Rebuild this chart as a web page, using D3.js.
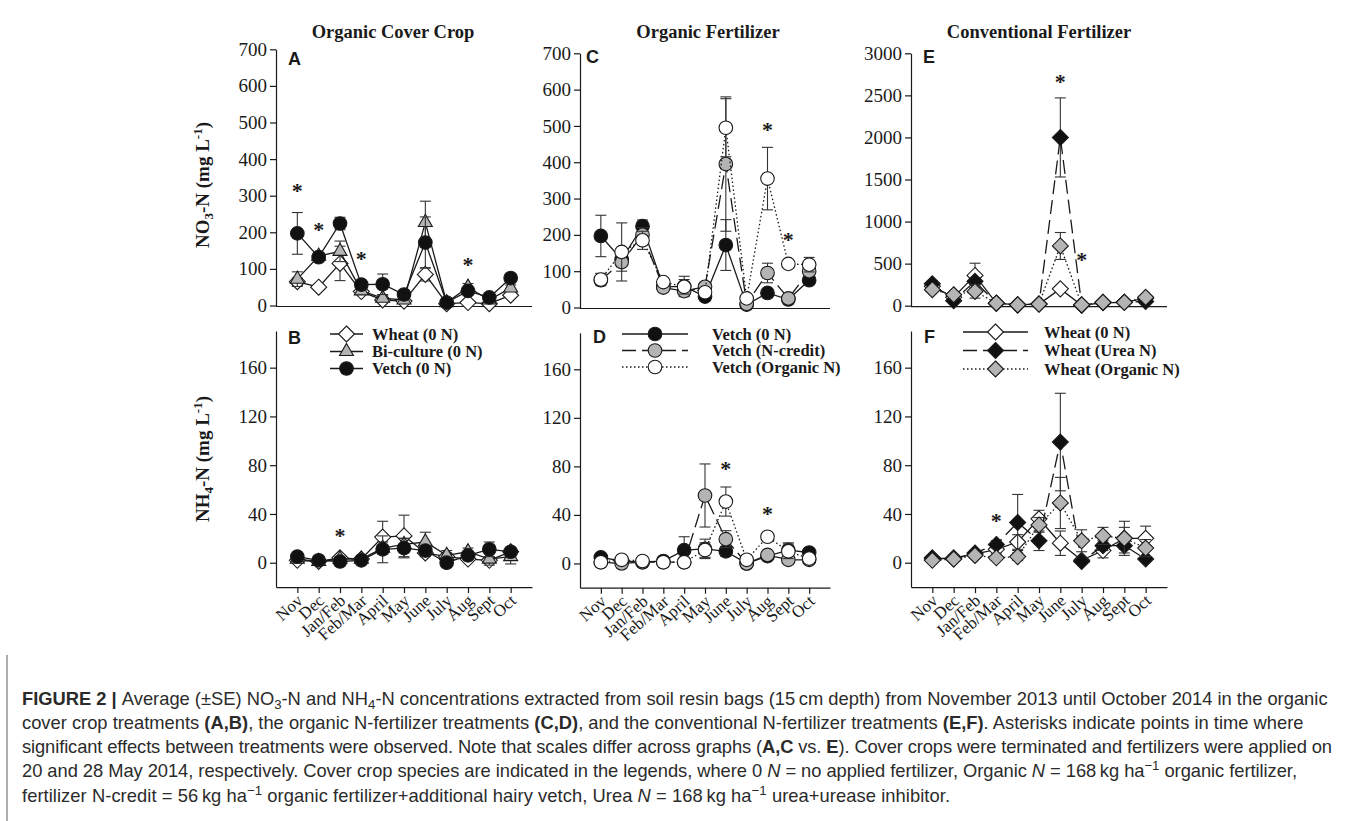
<!DOCTYPE html>
<html><head><meta charset="utf-8">
<script src="https://cdn.jsdelivr.net/npm/d3@7"></script>
<style>body{margin:0;background:#fff} svg{display:block}</style>
</head><body><svg id="c" width="1355" height="821"></svg>
<script>
// ---------------- DATA ----------------
const months = ["Nov","Dec","Jan/Feb","Feb/Mar","April","May","June","July","Aug","Sept","Oct"];

// Panel A: NO3-N, organic cover crop
const wheatNO3     = [65, 50, 115, 38, 15, 12, 85, 5, 8, 5, 28];
const wheatNO3SE   = [10, 8, 47, 6, 5, 4, 18, 3, 3, 3, 6];
const bicultNO3    = [72, 135, 148, 40, 20, 15, 227, 8, 50, 15, 48];
const bicultNO3SE  = [20, 10, 28, 8, 8, 5, 58, 4, 10, 5, 8];
const vetchNO3     = [197, 132, 224, 57, 58, 30, 172, 8, 40, 22, 75];
const vetchNO3SE   = [57, 12, 17, 8, 28, 6, 70, 4, 8, 5, 8];
// Panel C: NO3-N, organic fertilizer
const vetchNcNO3   = [75, 125, 200, 55, 45, 57, 395, 10, 95, 25, 100];
const vetchNcNO3SE = [10, 25, 20, 8, 10, 8, 185, 4, 27, 5, 10];
const vetchOrgNO3  = [77, 153, 185, 70, 57, 42, 495, 25, 355, 120, 118];
const vetchOrgNO3SE= [17, 80, 25, 10, 20, 8, 80, 5, 86, 8, 20];
// Panel E: NO3-N, conventional fertilizer
const wheat0NO3E   = [230, 100, 360, 30, 10, 20, 200, 5, 35, 40, 90];
const wheat0NO3ESE = [40, 20, 145, 10, 5, 5, 30, 3, 8, 8, 15];
const ureaNO3      = [260, 60, 290, 30, 10, 20, 2000, 10, 40, 40, 50];
const ureaNO3SE    = [40, 15, 40, 10, 5, 5, 470, 3, 8, 8, 10];
const orgNO3E      = [190, 130, 170, 30, 10, 20, 710, 10, 40, 40, 100];
const orgNO3ESE    = [30, 20, 80, 10, 5, 5, 160, 3, 8, 8, 15];

// Panel B: NH4-N, organic cover crop
const wheatNH4     = [2, 1, 4, 3, 21, 22, 8, 5, 3, 2, 9];
const wheatNH4SE   = [1, 1, 1, 1, 13, 17, 3, 3, 2, 2, 3];
const bicultNH4    = [3, 1, 3, 3, 12, 15, 17, 6, 9, 3, 5];
const bicultNH4SE  = [1, 1, 1, 1, 5, 5, 8, 4, 3, 5, 6];
const vetchNH4     = [5, 2, 1, 2, 11, 12, 10, 0, 6, 11, 9];
const vetchNH4SE   = [1, 1, 1, 1, 11, 8, 4, 2, 2, 6, 3];
// Panel D: NH4-N, organic fertilizer
const vetchNcNH4   = [1, 0, 1, 1, 1, 56, 20, 0, 7, 3, 3];
const vetchNcNH4SE = [1, 1, 1, 1, 1, 26, 7, 1, 2, 2, 2];
const vetchOrgNH4  = [1, 3, 2, 1, 1, 11, 51, 3, 22, 10, 4];
const vetchOrgNH4SE= [1, 1, 1, 1, 1, 6, 12, 1, 3, 6, 2];
// Panel F: NH4-N, conventional fertilizer
const wheat0NH4    = [3, 4, 7, 11, 17, 36, 16, 2, 10, 20, 20];
const wheat0NH4SE  = [1, 1, 2, 3, 6, 7, 10, 2, 6, 9, 10];
const ureaNH4      = [4, 3, 8, 15, 33, 18, 99, 1, 14, 14, 3];
const ureaNH4SE    = [1, 1, 2, 3, 23, 8, 40, 1, 4, 6, 2];
const orgNH4       = [2, 3, 6, 4, 5, 31, 49, 18, 22, 20, 12];
const orgNH4SE     = [1, 1, 2, 2, 3, 6, 21, 9, 7, 14, 7];

// Significance asterisks: [month, height]
const starsA = [["Nov", 320], ["Dec", 214], ["Feb/Mar", 135], ["Aug", 118]];
const starsC = [["Aug", 497], ["Sept", 194]];
const starsE = [["June", 2695], ["July", 581]];
const starsB = [["Jan/Feb", 24]];
const starsD = [["June", 80], ["Aug", 43]];
const starsF = [["Feb/Mar", 37]];

const ticksLow  = [0, 100, 200, 300, 400, 500, 600, 700];
const ticksHigh = [0, 500, 1000, 1500, 2000, 2500, 3000];
const ticksNH4  = [0, 40, 80, 120, 160];

const titles = ["Organic Cover Crop", "Organic Fertilizer", "Conventional Fertilizer"];
const legendB = ["Wheat (0 N)", "Bi-culture (0 N)", "Vetch (0 N)"];
const legendD = ["Vetch (0 N)", "Vetch (N-credit)", "Vetch (Organic N)"];
const legendF = ["Wheat (0 N)", "Wheat (Urea N)", "Wheat (Organic N)"];

// ---------------- DRAW ----------------
const svg = d3.select("#c");
const SERIF = "'Liberation Serif','Times New Roman',serif";
const SANS = "'Liberation Sans',Arial,sans-serif";
const INK = "#1a1a1a";
const GRAY = "#b4b4b4";

const styles = {
  wheat:  {shape: "diamond", fill: "#fff", dash: null},
  bicult: {shape: "triangle", fill: GRAY, dash: null},
  vetch:  {shape: "circle", fill: "#111", dash: null},
  vNc:    {shape: "circle", fill: GRAY, dash: "14,6"},
  vOrg:   {shape: "circle", fill: "#fff", dash: "1.5,2.5"},
  w0:     {shape: "diamond", fill: "#fff", dash: null},
  wUrea:  {shape: "diamond", fill: "#111", dash: "14,6"},
  wOrg:   {shape: "diamond", fill: GRAY, dash: "1.5,2.5"}
};

function shapePath(shape) {
  if (shape === "diamond") { const r = 8; return `M0,${-r}L${r},0L0,${r}L${-r},0Z`; }
  if (shape === "triangle") { const s = 14; const h = s * Math.sqrt(3) / 2; return `M0,${-h*2/3}L${s/2},${h/3}L${-s/2},${h/3}Z`; }
  return null;
}
function drawMarker(g, shape, fill, x, y) {
  if (shape === "circle") {
    g.append("circle").attr("cx", x).attr("cy", y).attr("r", 6.8)
      .attr("fill", fill).attr("stroke", INK).attr("stroke-width", 1.1);
  } else {
    g.append("path").attr("d", shapePath(shape)).attr("transform", `translate(${x},${y})`)
      .attr("fill", fill).attr("stroke", INK).attr("stroke-width", 1.1);
  }
}

const panels = [
  {letter: "A", lpos: [288, 65], xr: [276, 532], yd: [0, 700], yr: [305.5, 49.3], ticks: ticksLow, top: true,
   series: [[wheatNO3, wheatNO3SE, styles.wheat], [bicultNO3, bicultNO3SE, styles.bicult], [vetchNO3, vetchNO3SE, styles.vetch]], stars: starsA},
  {letter: "C", lpos: [586, 63], xr: [580, 830], yd: [0, 700], yr: [307.5, 53.3], ticks: ticksLow, top: true,
   series: [[vetchNO3, vetchNO3SE, styles.vetch], [vetchNcNO3, vetchNcNO3SE, styles.vNc], [vetchOrgNO3, vetchOrgNO3SE, styles.vOrg]], stars: starsC},
  {letter: "E", lpos: [923, 63], xr: [911, 1167], yd: [0, 3000], yr: [305.7, 53.3], ticks: ticksHigh, top: true,
   series: [[wheat0NO3E, wheat0NO3ESE, styles.w0], [ureaNO3, ureaNO3SE, styles.wUrea], [orgNO3E, orgNO3ESE, styles.wOrg]], stars: starsE},
  {letter: "B", lpos: [288, 344], xr: [276, 532], yd: [-20, 190], yr: [587.1, 331.1], ticks: ticksNH4, top: false,
   series: [[wheatNH4, wheatNH4SE, styles.wheat], [bicultNH4, bicultNH4SE, styles.bicult], [vetchNH4, vetchNH4SE, styles.vetch]], stars: starsB,
   legend: {names: legendB, styles: [styles.wheat, styles.bicult, styles.vetch], x1: 330, x2: 363, tx: 372, rows: [334, 351.5, 368.5]}},
  {letter: "D", lpos: [593, 343], xr: [580, 830], yd: [-20, 190], yr: [587.7, 332.9], ticks: ticksNH4, top: false,
   series: [[vetchNH4, vetchNH4SE, styles.vetch], [vetchNcNH4, vetchNcNH4SE, styles.vNc], [vetchOrgNH4, vetchOrgNH4SE, styles.vOrg]], stars: starsD,
   legend: {names: legendD, styles: [styles.vetch, styles.vNc, styles.vOrg], x1: 622, x2: 688, tx: 712, rows: [334, 350.5, 367]}},
  {letter: "F", lpos: [924, 343], xr: [911, 1167], yd: [-20, 190], yr: [587.1, 331.1], ticks: ticksNH4, top: false,
   series: [[wheat0NH4, wheat0NH4SE, styles.w0], [ureaNH4, ureaNH4SE, styles.wUrea], [orgNH4, orgNH4SE, styles.wOrg]], stars: starsF,
   legend: {names: legendF, styles: [styles.w0, styles.wUrea, styles.wOrg], x1: 963, x2: 1028, tx: 1044, rows: [332, 350.5, 369]}}
];

panels.forEach(p => {
  const g = svg.append("g");
  const x = d3.scalePoint().domain(months).range(p.xr).padding(1);
  const y = d3.scaleLinear().domain(p.yd).range(p.yr);

  // y axis
  const ya = g.append("g").attr("transform", `translate(${p.xr[0]},0)`)
    .call(d3.axisLeft(y).tickValues(p.ticks).tickFormat(d3.format("d")).tickSize(6).tickSizeOuter(0).tickPadding(3));
  ya.selectAll("text").attr("font-family", SERIF).attr("font-size", 19).attr("fill", INK);
  ya.selectAll("line,path").attr("stroke", INK).attr("stroke-width", 1.2);

  // x axis
  const xAxisY = p.top ? y(0) + 1 : y(p.yd[0]);
  if (p.top) {
    g.append("line").attr("x1", p.xr[0]).attr("x2", p.xr[1]).attr("y1", xAxisY).attr("y2", xAxisY)
      .attr("stroke", INK).attr("stroke-width", 1.2);
  } else {
    const xa = g.append("g").attr("transform", `translate(0,${xAxisY})`)
      .call(d3.axisBottom(x).tickSize(6).tickSizeOuter(0));
    xa.selectAll("line,path").attr("stroke", INK).attr("stroke-width", 1.2);
    xa.selectAll("text").attr("font-family", SERIF).attr("font-size", 17).attr("fill", INK)
      .attr("text-anchor", "end").attr("dy", null).attr("y", null)
      .attr("transform", "translate(6,15) rotate(-42)");
  }

  // series
  p.series.forEach(([vals, se, st]) => {
    const sg = g.append("g");
    const line = d3.line().x((d, i) => x(months[i])).y(d => y(d));
    sg.append("path").attr("d", line(vals)).attr("fill", "none").attr("stroke", INK)
      .attr("stroke-width", 1.3).attr("stroke-dasharray", st.dash);
    vals.forEach((v, i) => {
      const cx = x(months[i]);
      const e = se[i];
      if (e > 2.5 * (p.yd[1] - p.yd[0]) / 700 * (p.top ? 1 : 0.4)) {
        const y1 = y(v + e), y2 = y(Math.max(v - e, p.yd[0]));
        sg.append("line").attr("x1", cx).attr("x2", cx).attr("y1", y1).attr("y2", y2)
          .attr("stroke", "#333").attr("stroke-width", 1.1);
        sg.append("line").attr("x1", cx - 5.5).attr("x2", cx + 5.5).attr("y1", y1).attr("y2", y1)
          .attr("stroke", "#333").attr("stroke-width", 1.1);
        if (v - e >= p.yd[0])
          sg.append("line").attr("x1", cx - 5.5).attr("x2", cx + 5.5).attr("y1", y2).attr("y2", y2)
            .attr("stroke", "#333").attr("stroke-width", 1.1);
      }
    });
    vals.forEach((v, i) => drawMarker(sg, st.shape, st.fill, x(months[i]), y(v)));
  });

  // stars
  p.stars.forEach(([m, v]) => {
    g.append("text").attr("x", x(m)).attr("y", y(v) + 10).attr("text-anchor", "middle")
      .attr("font-family", SERIF).attr("font-weight", "bold").attr("font-size", 22).attr("fill", INK).text("*");
  });

  // panel letter
  g.append("text").attr("x", p.lpos[0]).attr("y", p.lpos[1]).attr("font-family", SANS)
    .attr("font-weight", "bold").attr("font-size", 18).attr("fill", INK).text(p.letter);

  // legend
  if (p.legend) {
    const L = p.legend;
    L.names.forEach((nm, i) => {
      const ry = L.rows[i], st = L.styles[i];
      g.append("line").attr("x1", L.x1).attr("x2", L.x2).attr("y1", ry).attr("y2", ry)
        .attr("stroke", INK).attr("stroke-width", 1.3).attr("stroke-dasharray", st.dash);
      drawMarker(g, st.shape, st.fill, (L.x1 + L.x2) / 2, ry);
      g.append("text").attr("x", L.tx).attr("y", ry + 5.5).attr("font-family", SERIF)
        .attr("font-weight", "bold").attr("font-size", 16.5).attr("fill", INK).text(nm);
    });
  }
});

// column titles
[[393, titles[0]], [708, titles[1]], [1039, titles[2]]].forEach(([cx, t]) => {
  svg.append("text").attr("x", cx).attr("y", 38).attr("text-anchor", "middle")
    .attr("font-family", SERIF).attr("font-weight", "bold").attr("font-size", 18.5).attr("fill", INK).text(t);
});

// y-axis titles
function yTitle(cx, cy, sub) {
  const t = svg.append("text").attr("transform", `translate(${cx},${cy}) rotate(-90)`)
    .attr("text-anchor", "middle").attr("font-family", SERIF).attr("font-weight", "bold")
    .attr("font-size", 19).attr("fill", INK);
  t.append("tspan").text(sub === "3" ? "NO" : "NH");
  t.append("tspan").attr("dy", 4).attr("font-size", 13).text(sub);
  t.append("tspan").attr("dy", -4).text("-N (mg L");
  t.append("tspan").attr("dy", -7).attr("font-size", 13).text("-1");
  t.append("tspan").attr("dy", 7).text(")");
}
yTitle(209, 185, "3");
yTitle(209, 459, "4");

// caption
svg.append("line").attr("x1", 7).attr("x2", 7).attr("y1", 655).attr("y2", 821)
  .attr("stroke", "#9a9a9a").attr("stroke-width", 1.6);

const captionLines = [
  [["FIGURE 2 | ", "b"], ["Average (±SE) NO"], ["3", "sub"], ["-N and NH"], ["4", "sub"], ["-N concentrations extracted from soil resin bags (15\u2009cm depth) from November 2013 until October 2014 in the organic"]],
  [["cover crop treatments "], ["(A,B)", "b"], [", the organic N-fertilizer treatments "], ["(C,D)", "b"], [", and the conventional N-fertilizer treatments "], ["(E,F)", "b"], [". Asterisks indicate points in time where"]],
  [["significant effects between treatments were observed. Note that scales differ across graphs ("], ["A,C", "b"], [" vs. "], ["E", "b"], ["). Cover crops were terminated and fertilizers were applied on"]],
  [["20 and 28 May 2014, respectively. Cover crop species are indicated in the legends, where 0 "], ["N", "i"], [" = no applied fertilizer, Organic "], ["N", "i"], [" = 168\u2009kg ha"], ["\u22121", "sup"], [" organic fertilizer,"]],
  [["fertilizer N-credit = 56\u2009kg ha"], ["\u22121", "sup"], [" organic fertilizer+additional hairy vetch, Urea "], ["N", "i"], [" = 168\u2009kg ha"], ["\u22121", "sup"], [" urea+urease inhibitor."]]
];
const capWidths = [1306, 1280, 1310, 1275, 928];
const capTexts = captionLines.map((segs, li) => {
  const t = svg.append("text").attr("x", 22).attr("y", 704.5 + li * 24.3)
    .attr("font-family", SANS).attr("fill", "#2b2b2b").attr("font-size", 17);
  let shift = 0;
  segs.forEach(([txt, st]) => {
    const ts = t.append("tspan").text(txt);
    let target = 0;
    if (st === "sub") { target = 4; ts.attr("font-size", "0.72em"); }
    if (st === "sup") { target = -7; ts.attr("font-size", "0.72em"); }
    if (st === "b") ts.attr("font-weight", "bold");
    if (st === "i") ts.attr("font-style", "italic");
    if (target !== shift) { ts.attr("dy", target - shift); shift = target; }
  });
  return t;
});
const w0 = capTexts[0].node().getComputedTextLength();
const fs = 17 * 1306 / w0;
capTexts.forEach((t, i) => {
  t.attr("font-size", fs);
  const w = t.node().getComputedTextLength();
  if (Math.abs(w - capWidths[i]) > 3) t.attr("textLength", capWidths[i]).attr("lengthAdjust", "spacing");
});
</script>
</body></html>
